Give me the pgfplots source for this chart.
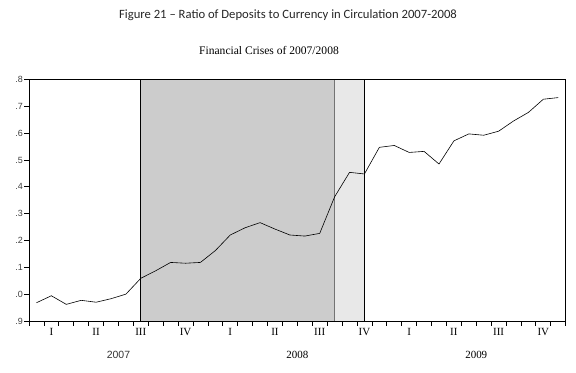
\documentclass[border=0pt]{standalone}
\usepackage{pgfplots}
\pgfplotsset{compat=1.18}
\usepackage{fontspec}
\setmainfont{Liberation Serif}
\newfontfamily\calfont{Carlito}
\newfontfamily\ysans{Liberation Sans}
\definecolor{dgray}{HTML}{CCCCCC}
\definecolor{lgray}{HTML}{E8E8E8}
\begin{document}
\begin{tikzpicture}[x=1bp,y=1bp]
\useasboundingbox (-29,-50.7) rectangle (547,321.3);
\begin{axis}[
  at={(0,0)}, anchor=south west,
  scale only axis, width=536.7bp, height=242bp,
  xmin=0, xmax=36, ymin=0.9, ymax=1.8,
  axis on top,
  axis line style={line width=0.9pt},
  ytick={0.9,1.0,1.1,1.2,1.3,1.4,1.5,1.6,1.7,1.8},
  yticklabels={.9,.0,.1,.2,.3,.4,.5,.6,.7,.8},
  yticklabel style={font=\ysans\fontsize{9}{10}\selectfont, color=black!75, inner sep=1.5bp},
  ytick pos=left, xtick pos=bottom,
  tick align=outside,
  major tick length=4.5bp, minor tick length=4.5bp,
  tick style={black, line width=0.8pt},
  xtick={0,3,...,36}, xticklabels={},
  minor xtick={0,1,...,36},
  extra x ticks={1.5,4.5,7.5,10.5,13.5,16.5,19.5,22.5,25.5,28.5,31.5,34.5},
  extra x tick labels={I,II,III,IV,I,II,III,IV,I,II,III,IV},
  extra x tick style={major tick length=0pt, tick label style={font=\fontsize{11}{12}\selectfont, yshift=-3bp}},
  clip=false,
]
\addplot[draw=none, fill=dgray] coordinates {(7.5,0.9) (7.5,1.8) (20.5,1.8) (20.5,0.9)} -- cycle;
\addplot[draw=none, fill=lgray] coordinates {(20.5,0.9) (20.5,1.8) (22.5,1.8) (22.5,0.9)} -- cycle;
\addplot[black, line width=0.9pt] coordinates {(7.5,0.9) (7.5,1.8)};
\addplot[black!55, line width=0.9pt] coordinates {(20.5,0.9) (20.5,1.8)};
\addplot[black, line width=0.9pt] coordinates {(22.5,0.9) (22.5,1.8)};
\addplot[black, line width=0.6pt] coordinates {
(0.5,0.969) (1.5,0.995) (2.5,0.963) (3.5,0.978) (4.5,0.971) (5.5,0.984)
(6.5,1.001) (7.5,1.060) (8.5,1.088) (9.5,1.119) (10.5,1.116) (11.5,1.119)
(12.5,1.163) (13.5,1.221) (14.5,1.248) (15.5,1.267) (16.5,1.243) (17.5,1.221)
(18.5,1.217) (19.5,1.227) (20.5,1.363) (21.5,1.454) (22.5,1.448) (23.5,1.547)
(24.5,1.554) (25.5,1.528) (26.5,1.532) (27.5,1.485) (28.5,1.571) (29.5,1.597)
(30.5,1.592) (31.5,1.607) (32.5,1.645) (33.5,1.677) (34.5,1.726) (35.5,1.732)
};
\node[font=\ysans\fontsize{10.5}{11}\selectfont, color=black!80] at (axis cs:6,0.9) [yshift=-34bp] {2007};
\node[font=\fontsize{11}{12}\selectfont] at (axis cs:18,0.9) [yshift=-34bp] {2008};
\node[font=\fontsize{11}{12}\selectfont] at (axis cs:30,0.9) [yshift=-34bp] {2009};
\end{axis}
\node[font=\calfont\fontsize{12.7}{14}\selectfont, color=black!85] at (259,306.3) {Figure 21 – Ratio of Deposits to Currency in Circulation 2007-2008};
\node[font=\fontsize{11.6}{12}\selectfont] at (240,271.3) {Financial Crises of 2007/2008};
\end{tikzpicture}
\end{document}
